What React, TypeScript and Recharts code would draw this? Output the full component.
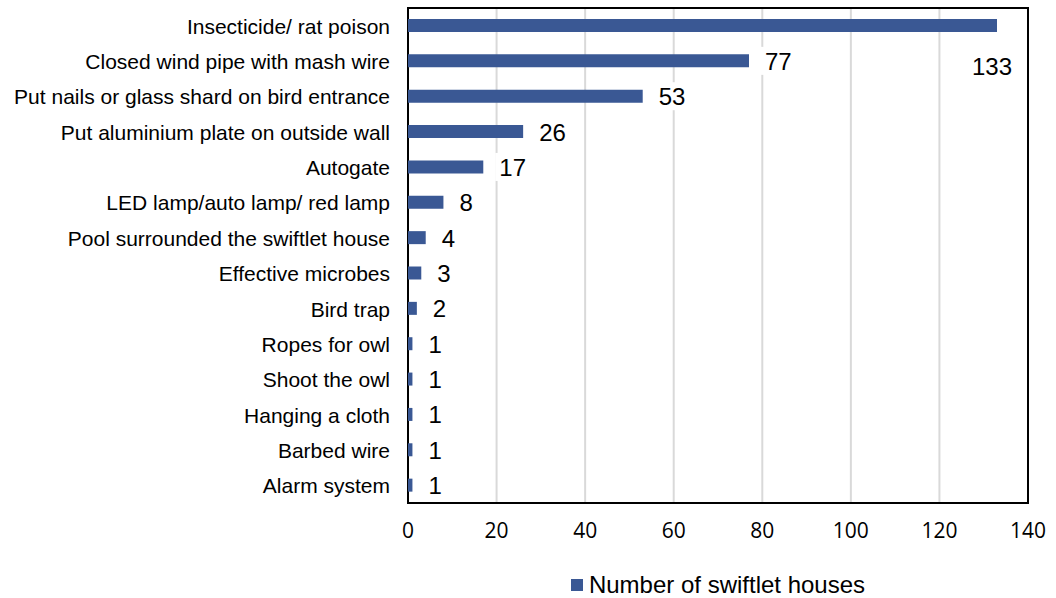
import { BarChart, Bar, XAxis, YAxis, CartesianGrid, Legend, LabelList, ReferenceArea } from 'recharts'

const categories = [
  'Insecticide/ rat poison',
  'Closed wind pipe with mash wire',
  'Put nails or glass shard on bird entrance',
  'Put aluminium plate on outside wall',
  'Autogate',
  'LED lamp/auto lamp/ red lamp',
  'Pool surrounded the swiftlet house',
  'Effective microbes',
  'Bird trap',
  'Ropes for owl',
  'Shoot the owl',
  'Hanging a cloth',
  'Barbed wire ',
  'Alarm system',
]
const houses = [133, 77, 53, 26, 17, 8, 4, 3, 2, 1, 1, 1, 1, 1]
const xTicks = [0, 20, 40, 60, 80, 100, 120, 140]

const data = categories.map((name, i) => ({ name, houses: houses[i] }))

const BAR = '#3a5894'

const CategoryTick = (props: any) => {
  const { x, y, payload } = props
  return (
    <text x={x - 10} y={y} dy={8} textAnchor="end" fontSize={21} fill="#000" fontFamily="Liberation Sans, Arial, sans-serif">
      {payload.value}
    </text>
  )
}

const ValueTick = (props: any) => {
  const { x, y, payload } = props
  return (
    <text x={x} y={y + 27} textAnchor="middle" fontSize={21} fill="#000" fontFamily="Open Sans, sans-serif">
      {payload.value}
    </text>
  )
}

const ValueLabel = (props: any) => {
  const { x, y, width, height, value, index } = props
  const text = String(value)
  const w = text.length * 14 + 8
  let tx = x + width + 16
  let ty = y + height / 2
  if (index === 0) {
    // the top label sits under the end of its bar
    tx = x + width - 25
    ty = y + height / 2 + 40
  }
  return (
    <g>
      <rect x={tx - 4} y={ty - 14} width={w} height={28} fill="#fff" />
      <text x={tx} y={ty + 9} fontSize={24} fill="#000" fontFamily="Liberation Sans, Arial, sans-serif">
        {text}
      </text>
    </g>
  )
}

const LegendContent = () => (
  <div style={{ height: 30, display: 'flex', alignItems: 'center', justifyContent: 'center', fontFamily: 'Liberation Sans, Arial, sans-serif', fontSize: 24, color: '#000' }}>
    <span style={{ width: 12, height: 12, background: BAR, marginRight: 6, display: 'inline-block' }} />
    Number of swiftlet houses
  </div>
)

export default function App() {
  return (
    <div style={{ position: 'absolute', left: 0, top: 0, background: '#fff' }}>
      <BarChart
        width={1056}
        height={598}
        data={data}
        layout="vertical"
        margin={{ top: 8, right: 28, bottom: 20, left: 0 }}
      >
        <CartesianGrid horizontal={false} vertical={true} stroke="#d9d9d9" strokeWidth={2} />
        <XAxis
          type="number"
          domain={[0, 140]}
          ticks={xTicks}
          interval={0}
          height={45}
          axisLine={false}
          tickLine={false}
          tick={<ValueTick />}
        />
        <YAxis
          type="category"
          dataKey="name"
          width={408}
          axisLine={false}
          tickLine={false}
          interval={0}
          tick={<CategoryTick />}
        />
        <Legend
          verticalAlign="bottom"
          content={<LegendContent />}
          wrapperStyle={{ left: 408, width: 620, top: 570, bottom: 'auto' }}
        />
        <Bar dataKey="houses" fill={BAR} barSize={13} isAnimationActive={false}>
          <LabelList dataKey="houses" content={<ValueLabel />} />
        </Bar>
        <ReferenceArea x1={0} x2={140} fill="none" stroke="#000" strokeWidth={2} ifOverflow="visible" />
      </BarChart>
    </div>
  )
}
